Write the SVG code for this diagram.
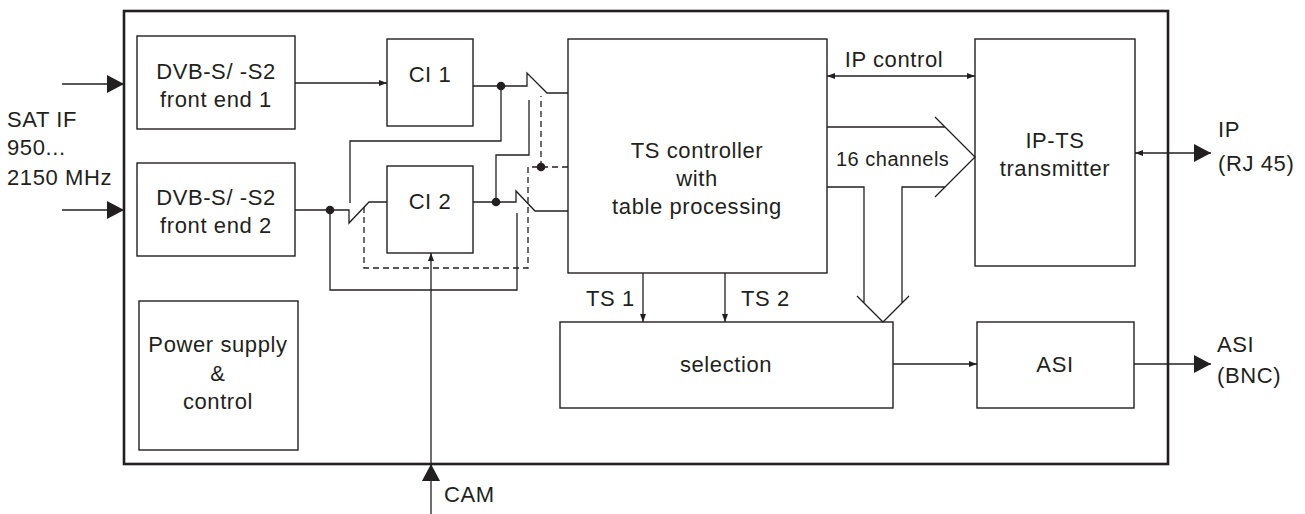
<svg xmlns="http://www.w3.org/2000/svg" width="1305" height="514" viewBox="0 0 1305 514">
<style>
.box{fill:#fff;stroke:#231f20;stroke-width:1.4}
.outer{fill:none;stroke:#231f20;stroke-width:2.6}
.ln{fill:none;stroke:#231f20;stroke-width:1.3}
.dash{fill:none;stroke:#231f20;stroke-width:1.3;stroke-dasharray:6,4}
.dot{fill:#231f20}
text{font-family:"Liberation Sans",Arial,Helvetica,sans-serif;font-size:22px;fill:#231f20;letter-spacing:0.6px}
.c{text-anchor:middle}
</style>
<defs>
<marker id="sm" viewBox="0 0 8 6" refX="8" refY="3" markerWidth="8" markerHeight="6" markerUnits="userSpaceOnUse" orient="auto-start-reverse"><path d="M0,0 L8,3 L0,6z" fill="#231f20"/></marker>
<marker id="big" viewBox="0 0 17 18" refX="17" refY="9" markerWidth="17" markerHeight="18" markerUnits="userSpaceOnUse" orient="auto"><path d="M0,0 L17,9 L0,18z" fill="#231f20"/></marker>
</defs>
<rect width="1305" height="514" fill="#fff"/>
<rect id="device" class="outer" x="124" y="11" width="1044" height="453"/>

<g id="fe1"><rect class="box" x="137" y="36" width="158" height="93"/><text class="c" x="216" y="79">DVB-S/ -S2</text><text class="c" x="216" y="107">front end 1</text></g>
<g id="fe2"><rect class="box" x="137" y="163" width="158" height="93"/><text class="c" x="216" y="205">DVB-S/ -S2</text><text class="c" x="216" y="233">front end 2</text></g>
<g id="power"><rect class="box" x="139" y="301" width="159" height="149"/><text class="c" x="218" y="352">Power supply</text><text class="c" x="218" y="381">&amp;</text><text class="c" x="218" y="409">control</text></g>
<g id="ci1"><rect class="box" x="387" y="39" width="86" height="87"/><text class="c" x="430" y="82">CI 1</text></g>
<g id="ci2"><rect class="box" x="387" y="166" width="86" height="87"/><text class="c" x="430" y="209">CI 2</text></g>
<g id="ts"><rect class="box" x="568" y="39" width="259" height="234"/><text class="c" x="697" y="158">TS controller</text><text class="c" x="697" y="186">with</text><text class="c" x="697" y="214">table processing</text></g>
<g id="iptx"><rect class="box" x="975" y="39" width="160" height="227"/><text class="c" x="1055" y="148">IP-TS</text><text class="c" x="1055" y="176">transmitter</text></g>
<g id="sel"><rect class="box" x="560" y="322" width="333" height="86"/><text class="c" x="726" y="372">selection</text></g>
<g id="asi"><rect class="box" x="977" y="322" width="157" height="86"/><text class="c" x="1055" y="372">ASI</text></g>

<g id="connectors">
<!-- inputs -->
<line class="ln" x1="62" y1="84" x2="124" y2="84" marker-end="url(#big)"/>
<line class="ln" x1="62" y1="210" x2="124" y2="210" marker-end="url(#big)"/>
<!-- FE1 to CI1 -->
<line class="ln" x1="295" y1="83" x2="387" y2="83" marker-end="url(#sm)"/>
<!-- CI1 out to switch 1 -->
<path class="ln" d="M473,86 H527 V73 L547,93 H568"/>
<!-- CI1 out to input switch contact -->
<path class="ln" d="M501,86 V141 H350 V203"/>
<!-- CI2 out to switch1 second contact -->
<path class="ln" d="M496,202 V155 H529 V100"/>
<!-- FE2 to input switch -->
<path class="ln" d="M295,210 H349 V223 L369,202 H387"/>
<!-- CI2 out to switch 2 -->
<path class="ln" d="M473,202 H516 V191 L535,211 H568"/>
<!-- FE2 bypass to switch2 second contact -->
<path class="ln" d="M330,210 V290 H517 V213"/>
<!-- dashed linkage -->
<path class="dash" d="M568,167 H528 V268 H364 V207"/>
<line class="dash" x1="541" y1="167" x2="541" y2="96"/>
<circle class="dot" cx="501" cy="86" r="4.3"/>
<circle class="dot" cx="496" cy="202" r="4.3"/>
<circle class="dot" cx="330" cy="210" r="4.3"/>
<circle class="dot" cx="541" cy="167" r="4.3"/>
<!-- CAM -->
<line class="ln" x1="431" y1="514" x2="431" y2="253" marker-end="url(#sm)"/>
<path d="M422,481 L431,464 L440,481z" fill="#231f20"/>
<text x="444" y="502">CAM</text>
<!-- IP control -->
<line class="ln" x1="827" y1="76" x2="975" y2="76" marker-start="url(#sm)" marker-end="url(#sm)"/>
<text class="c" x="894" y="67">IP control</text>
<!-- 16 channels fat arrow -->
<path class="ln" d="M827,127 H945 M935,117 L975,157 L935,197 M827,187 H864 V303 M902,303 V187 H945 M857,296 L883,322 L909,296"/>
<text x="836" y="166" style="font-size:20px;letter-spacing:0.5px">16 channels</text>
<!-- TS1 TS2 -->
<line class="ln" x1="643" y1="273" x2="643" y2="322" marker-end="url(#sm)"/>
<line class="ln" x1="725" y1="273" x2="725" y2="322" marker-end="url(#sm)"/>
<text x="586" y="306">TS 1</text>
<text x="741" y="306">TS 2</text>
<!-- selection to ASI -->
<line class="ln" x1="893" y1="364" x2="977" y2="364" marker-end="url(#sm)"/>
<!-- outputs -->
<line class="ln" x1="1135" y1="153" x2="1211" y2="153" marker-start="url(#sm)" marker-end="url(#big)"/>
<line class="ln" x1="1134" y1="364" x2="1211" y2="364" marker-end="url(#big)"/>
</g>
<text x="1218" y="137">IP</text>
<text x="1218" y="171">(RJ 45)</text>
<text x="1217" y="352">ASI</text>
<text x="1217" y="383">(BNC)</text>
<text x="7" y="127">SAT IF</text>
<text x="7" y="155">950...</text>
<text x="7" y="185">2150 MHz</text>
</svg>
